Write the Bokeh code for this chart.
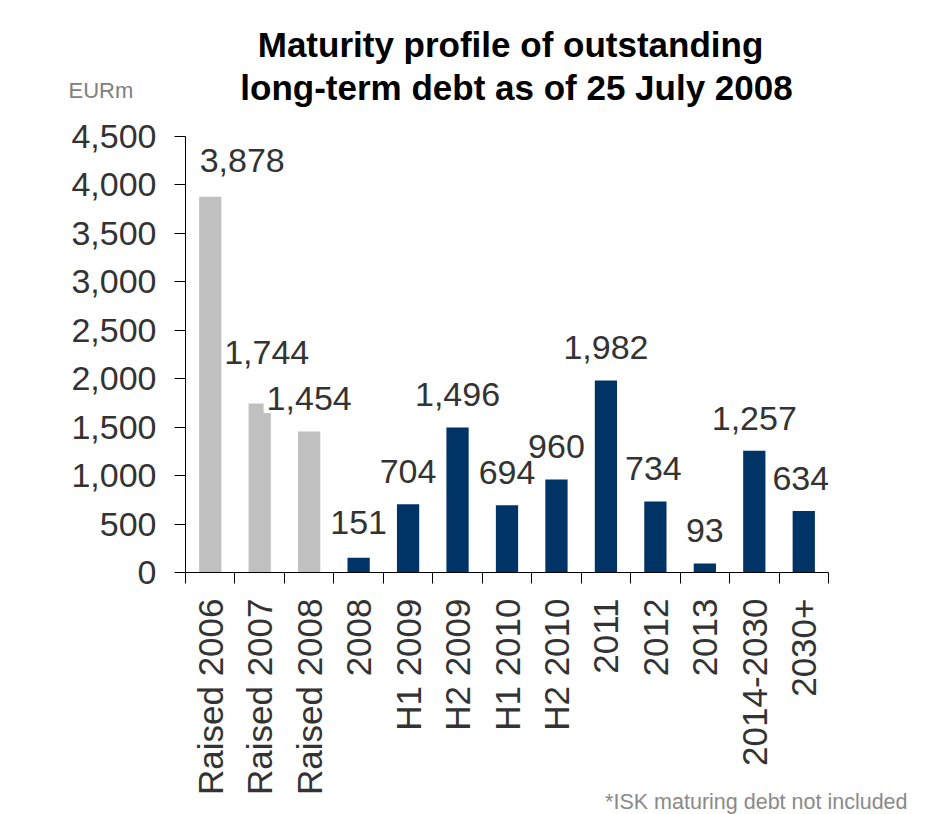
import math
from bokeh.plotting import figure
from bokeh.layouts import column
from bokeh.models import (ColumnDataSource, Range1d, LinearAxis, FixedTicker,
                          NumeralTickFormatter, Label, Title)
from bokeh.embed import file_html
from bokeh.resources import INLINE

# ---- data ----
categories = ["Raised 2006", "Raised 2007", "Raised 2008", "2008", "H1 2009",
              "H2 2009", "H1 2010", "H2 2010", "2011", "2012", "2013",
              "2014-2030", "2030+"]
values = [3878, 1744, 1454, 151, 704, 1496, 694, 960, 1982, 734, 93, 1257, 634]
groups = ["raised"] * 3 + ["maturing"] * 10
y_ticks = [0, 500, 1000, 1500, 2000, 2500, 3000, 3500, 4000, 4500]
title_lines = ["Maturity profile of outstanding", "long-term debt as of 25 July 2008"]
unit_text = "EURm"
note_text = "*ISK maturing debt not included"

# ---- styles ----
group_colors = {"raised": "#C0C0C0", "maturing": "#003366"}
label_dx = [32, 7, 0, 0, 0, 0, 0, 0, 0, -2, 0, 0, -3]
label_dy = [36, 51, 33, 35, 33, 33, 33, 33, 33, 33, 33, 32, 33]
FONT = "Liberation Sans"
TXT = "#333333"
W = 938
HEAD_H = 110

# ---- header (title + unit) ----
head = figure(width=W, height=HEAD_H, output_backend="svg", toolbar_location=None,
              x_range=Range1d(0, W), y_range=Range1d(HEAD_H, 0),
              x_axis_location=None, y_axis_location=None,
              min_border=0, min_border_left=0, min_border_right=0,
              min_border_top=0, min_border_bottom=0)
head.title = None
head.frame_align = False
head.outline_line_color = None
head.xgrid.visible = False
head.ygrid.visible = False
head.add_layout(Label(x=510, y=44, text=title_lines[0], text_align="center",
                      text_baseline="alphabetic", text_font=FONT, text_font_size="35px",
                      text_font_style="bold", text_color="black"))
head.add_layout(Label(x=516, y=87, text=title_lines[1], text_align="center",
                      text_baseline="alphabetic", text_font=FONT, text_font_size="35px",
                      text_font_style="bold", text_color="black"))
head.add_layout(Label(x=68, y=90, text=unit_text, text_align="left",
                      text_baseline="alphabetic", text_font=FONT, text_font_size="22px",
                      text_color="#808080"))

# ---- chart ----
n = len(categories)
xc = [i + 0.5 for i in range(n)]
src = ColumnDataSource(dict(x=xc, value=values,
                            color=[group_colors[g] for g in groups]))

CH = 814 - HEAD_H
p = figure(width=W, height=CH, output_backend="svg", toolbar_location=None,
           x_range=Range1d(0, n), y_range=Range1d(0, 4500),
           x_axis_location=None, y_axis_location=None,
           min_border_left=185, min_border_right=W - 828,
           min_border_top=136 - HEAD_H, min_border_bottom=CH - (572 - HEAD_H))
p.title = None
p.frame_align = False
p.outline_line_color = None
p.xgrid.visible = False
p.ygrid.visible = False
p.background_fill_color = "white"
p.border_fill_color = "white"

p.vbar(x="x", top="value", width=0.45, source=src,
       fill_color="color", line_color=None)

# y axis
ya = LinearAxis(ticker=FixedTicker(ticks=y_ticks),
                formatter=NumeralTickFormatter(format="0,0"))
ya.axis_line_color = "black"
ya.major_tick_line_color = "black"
ya.major_tick_in = 0
ya.major_tick_out = 11
ya.minor_tick_line_color = None
ya.major_label_text_font = FONT
ya.major_label_text_font_size = "34px"
ya.major_label_text_color = TXT
ya.major_label_standoff = 18
p.add_layout(ya, "left")

# x axis: tick marks at category boundaries
xa = LinearAxis(ticker=FixedTicker(ticks=list(range(n + 1))))
xa.axis_line_color = "black"
xa.major_tick_line_color = "black"
xa.major_tick_in = 0
xa.major_tick_out = 11
xa.minor_tick_line_color = None
xa.major_label_text_font_size = "0px"
xa.major_label_standoff = 0
xa.major_label_overrides = {i: "" for i in range(n + 1)}
p.add_layout(xa, "below")

# x axis: category labels at centres
xl = LinearAxis(ticker=FixedTicker(ticks=xc))
xl.axis_line_color = None
xl.major_tick_line_color = None
xl.minor_tick_line_color = None
xl.major_label_overrides = {x: c for x, c in zip(xc, categories)}
xl.major_label_orientation = math.pi / 2
xl.major_label_text_font = FONT
xl.major_label_text_font_size = "35px"
xl.major_label_text_color = TXT
xl.major_label_standoff = 9
p.add_layout(xl, "below")

# footnote
p.add_layout(Title(text=note_text, align="right", offset=-79, standoff=-31,
                   text_font=FONT, text_font_size="21.5px", text_font_style="normal",
                   text_color="#8a8a8a"), "below")

# data labels
for i, (x, v) in enumerate(zip(xc, values)):
    lab = Label(x=x, y=v, text=f"{v:,}", x_offset=label_dx[i], y_offset=label_dy[i],
                text_align="center", text_baseline="middle",
                text_font=FONT, text_font_size="34px", text_color=TXT)
    if i == 2:
        lab.background_fill_color = "white"
        lab.padding = 3
    p.add_layout(lab)

open("out.html", "w").write(file_html(column(head, p, spacing=0), INLINE))
